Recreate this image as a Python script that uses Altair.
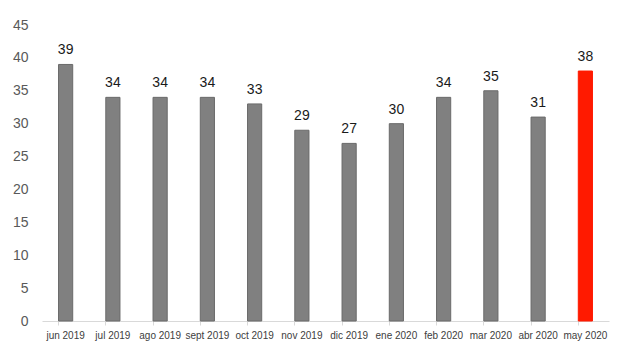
import altair as alt
import pandas as pd

months = ["jun 2019", "jul 2019", "ago 2019", "sept 2019", "oct 2019", "nov 2019",
          "dic 2019", "ene 2020", "feb 2020", "mar 2020", "abr 2020", "may 2020"]
values = [39, 34, 34, 34, 33, 29, 27, 30, 34, 35, 31, 38]
highlight = [False] * 11 + [True]
y_ticks = [0, 5, 10, 15, 20, 25, 30, 35, 40, 45]

df = pd.DataFrame({"mes": months, "valor": values, "destacado": highlight})

x = alt.X("mes:N", sort=months, title=None,
          scale=alt.Scale(paddingInner=0.7, paddingOuter=0.35),
          axis=alt.Axis(labelAngle=0, labelFontSize=10, labelColor="#404040",
                        labelFont="Liberation Sans", domainColor="#d9d9d9",
                        tickColor="#d9d9d9", tickSize=4, labelPadding=5,
                        bandPosition=0))
y = alt.Y("valor:Q", title=None,
          scale=alt.Scale(domain=[0, 45], nice=False, zero=True),
          axis=alt.Axis(values=y_ticks, grid=False, domain=False,
                        ticks=False, labelFontSize=14, labelColor="#595959",
                        labelFont="Liberation Sans", labelPadding=14,
                        labelOverlap=False, labelFlush=False, labelBound=False))

base = alt.Chart(df).encode(x=x, y=y)

bars = base.mark_bar(strokeWidth=1).encode(
    color=alt.Color("destacado:N", scale=alt.Scale(domain=[False, True], range=["#808080", "#ff1a00"]), legend=None),
    stroke=alt.Stroke("destacado:N", scale=alt.Scale(domain=[False, True], range=["#6a6a6a", "#ff1a00"]), legend=None),
)

labels = base.mark_text(dy=-14, fontSize=14, color="#1a1a1a", font="Liberation Sans").encode(
    text="valor:Q")

chart = (bars + labels).properties(
    width=567, height=296,
    autosize=alt.AutoSizeParams(type="none"),
    padding={"left": 34, "top": 17, "right": 6, "bottom": 30},
).configure_view(stroke=None)

chart.save("out.html", embed_options={"renderer": "svg", "actions": False})
